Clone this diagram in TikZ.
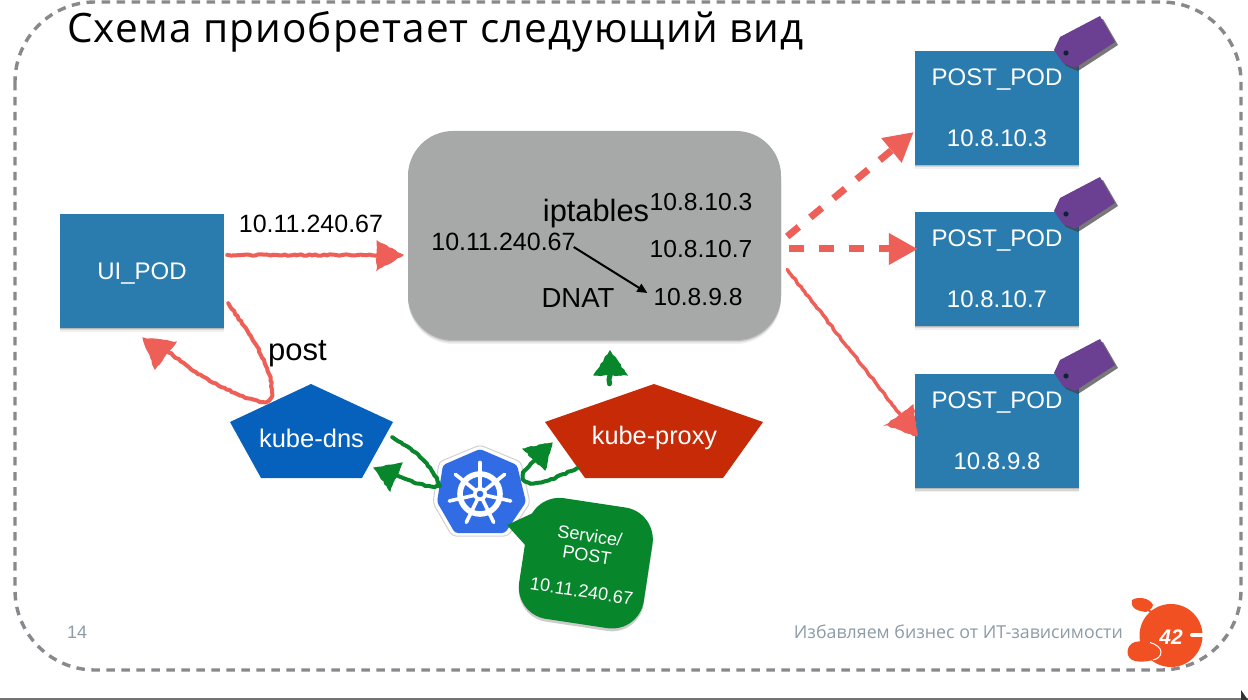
\documentclass[tikz,border=0pt]{standalone}
\usepackage{fontspec}
\setmainfont{Liberation Sans}
\newfontfamily\widefont{Open Sans}
\newfontfamily\titlefont[LetterSpace=2.5]{Open Sans}
\usetikzlibrary{calc,arrows.meta,shadows,decorations.pathmorphing}
\definecolor{cred}{HTML}{EE5F58}
\definecolor{cblue}{HTML}{2A7CAE}
\definecolor{cpurple}{HTML}{6B3F91}
\definecolor{cgreen}{HTML}{07862B}
\definecolor{cdns}{HTML}{0561BC}
\definecolor{cproxy}{HTML}{C62A07}
\definecolor{cgray}{HTML}{A6A9A8}
\definecolor{cwheel}{HTML}{326CE5}
\definecolor{corange}{HTML}{F15022}
\definecolor{cborder}{HTML}{88898D}
\definecolor{cfoot}{HTML}{8C9CA8}
\newcommand{\fs}[1]{\fontsize{#1}{#1}\selectfont}
\tikzset{
  x=1pt,y=-1pt,
  softshadow/.style={
    drop shadow={shadow xshift=0pt,shadow yshift=-1pt,opacity=.14,fill=black},
    drop shadow={shadow xshift=0pt,shadow yshift=-2.5pt,opacity=.10,fill=black},
    drop shadow={shadow xshift=0pt,shadow yshift=-4pt,opacity=.06,fill=black}},
  podbox/.style={fill=cblue,text=white,minimum width=164pt,minimum height=114pt,inner sep=0pt,align=center,softshadow},
  txt/.style={inner sep=0pt,font=\fs{24.6}},
  wtxt/.style={txt,text=white},
  rough/.style={decorate,decoration={random steps,segment length=3pt,amplitude=.7pt,post=lineto,post length=1pt,pre=lineto,pre length=1pt}},
  redpen/.style={draw=cred,line width=4pt,rough,line cap=round,line join=round},
  redtip/.style={fill=cred,draw=cred,line width=1pt,rough},
  greenpen/.style={draw=cgreen,line width=4pt,rough,line cap=round,line join=round},
  greentip/.style={fill=cgreen,draw=cgreen,line width=1pt,rough},
  reddash/.style={draw=cred,line width=7pt,dash pattern=on 15pt off 15pt,
    -{Triangle[length=29pt,width=30pt,fill=cred]}},
  wheelpart/.style={white,line cap=round},
  pics/pricetag/.style={code={
    \fill[black!75,opacity=.7] (1103,19)--(1118,45)--(1078,71)--(1066,66)--(1057,53)--(1063,40)--cycle;
    \fill[cpurple] (1100,16)--(1115,42)--(1075,68)--(1063,63)--(1054,50)--(1060,37)--cycle;
    \fill[black!70!cblue] (1066,53) circle[radius=2.6pt];
  }}
}
\begin{document}
\begin{tikzpicture}
\useasboundingbox (0,0) rectangle (1248,700);
\fill[white] (0,0) rectangle (1248,700);
\fill[black!55] (0,698) rectangle (1248,700);
\fill[black!80] (1241,690)--(1248,700)--(1241,700)--cycle;

% frame
\draw[cborder,line width=3.4pt,dash pattern=on 8.5pt off 6.5pt,rounded corners=80pt] (15,2) rectangle (1241,670);

% title and footer
\node[anchor=west,inner sep=0pt,font=\titlefont\fs{40.5}] (title) at (67,32) {Схема приобретает следующий вид};
\node[anchor=west,inner sep=0pt,font=\fs{18},text=cfoot] (page) at (67,632) {14};
\node[anchor=east,inner sep=0pt,font=\widefont\fs{17.8},text=cfoot] (slogan) at (1123,632) {Избавляем бизнес от ИТ-зависимости};

% gray iptables block
\node[fill=cgray,rounded corners=45pt,minimum width=373pt,minimum height=209pt,inner sep=0pt,softshadow] (gray) at (594.5,235.5) {};
\node[txt,font=\fs{30.8}] (iptables) at (596,214) {iptables};
\node[txt,font=\fs{25}] (vip) at (503.5,242) {10.11.240.67};
\node[txt] (ta) at (701,202) {10.8.10.3};
\node[txt] (tb) at (701,249) {10.8.10.7};
\node[txt] (tc) at (698,297) {10.8.9.8};
\node[txt,font=\fs{27.5}] (dnat) at (578,298) {DNAT};
\draw[line width=2pt,-{Triangle[length=10pt,width=9pt]}] ($(vip.south east)+(-2,-4)$) -- ($(tc.west)+(-6,-4)$);

% pods
\node[podbox,font=\fs{24}] (ui) at (142,271) {\raisebox{-3pt}[17pt][5pt]{UI\_POD}};
\node[podbox,font=\fs{24}] (pa) at (997,108) {POST\_POD\\[37pt]10.8.10.3};
\node[podbox,font=\fs{24}] (pb) at (997,269) {POST\_POD\\[37pt]10.8.10.7};
\node[podbox,font=\fs{24}] (pc) at (997,431) {POST\_POD\\[37pt]10.8.9.8};
\pic at (0,0) {pricetag};
\pic at (0,161) {pricetag};
\pic at (0,323) {pricetag};

% kube-dns
\fill[cdns] (311,384)--(393,422)--(362,478)--(261,478)--(230,422)--cycle;
\node[wtxt,font=\fs{25.5},minimum width=163pt,minimum height=94pt] (dns) at (311.5,438) {kube-dns};
% kube-proxy
\fill[cproxy] (654,384)--(763,422)--(723,478)--(585,478)--(545,422)--cycle;
\node[wtxt,font=\fs{25.3},minimum width=218pt,minimum height=94pt] (proxy) at (654.5,438) {kube-proxy};

% kubernetes logo
\draw[black!18,line width=1pt,fill=white,rounded corners=4pt] (480,445)--(521,462)--(530,503)--(508,536)--(452,536)--(433,503)--(439,462)--cycle;
\node[fill=none,minimum size=70pt,inner sep=0pt] (k8s) at (480,494) {};
\fill[cwheel,rounded corners=3pt] (480,449)--(517,465)--(526,502)--(505,533)--(455,533)--(437,502)--(443,465)--cycle;
\begin{scope}[shift={(480,494)}]
  \draw[white,line width=5.6pt] (0,0) circle[radius=20pt];
  \foreach \a in {0,51.43,102.86,154.29,205.71,257.14,308.57}{
    \draw[wheelpart,line width=3.6pt] (\a-90:4) -- (\a-90:31.5);
  }
  \fill[white] (0,0) circle[radius=7pt];
  \fill[cwheel] (0,0) circle[radius=3.3pt];
\end{scope}

% callout
\node[fill=black,opacity=.2,rounded corners=32pt,rotate=-8.6,minimum width=126pt,minimum height=122pt,inner sep=0pt] (svcsh) at (585.8,566) {};
\fill[cgreen] (507,525)--(533,513)--(526,546)--cycle;
\node[fill=cgreen,rounded corners=32pt,rotate=-8.6,minimum width=126pt,minimum height=122pt,inner sep=0pt,text=white,
  font=\fs{18},align=center] (svc) at (585.8,563.2) {Service/\\[2pt]POST\\[18pt]10.11.240.67};

% labels on connectors
\node[txt,font=\fs{25}] (reqip) at (311,224) {10.11.240.67};
\node[txt,font=\fs{31}] (post) at (297.5,354) {post};

% hand-drawn red connectors
\draw[redpen] ($(ui.east)+(3,-16)$) -- ($(gray.west)+(-28,19.5)$);
\draw[redtip] (403,255)--(377,241)--(377,270)--cycle;
\draw[redpen] ($(ui.south east)+(4,-25)$) .. controls (250,335) and (272,365) .. (272,392)
  .. controls (272,407) and (255,402) .. (235,393) .. controls (215,385) and (190,370) .. ($(ui.south)+(24,21)$);
\draw[redtip] (143,338)--(176,342)--(155,369)--cycle;
\draw[redpen,line width=3.5pt] ($(gray.east)+(6,34)$) -- ($(pc.north west)+(-15,40)$);
\draw[redtip] (917,436)--(886,425)--(913,405)--cycle;

% dashed red connectors
\draw[reddash] ($(gray.east)+(6,1)$) -- ($(pa.west)+(-1,24)$);
\draw[reddash] ($(gray.east)+(8,13.5)$) -- ($(pb.west)+(3,-20)$);

% hand-drawn green connectors
\draw[greenpen] ($(dns.south east)+(-1,-48)$) .. controls (415,450) and (432,465) .. (440,486)
  .. controls (425,488) and (415,482) .. (398,476);
\draw[greentip] (374,468)--(402,463)--(390,491)--cycle;
\draw[greenpen] ($(proxy.south west)+(32,-17)$) .. controls (555,478) and (535,488) .. (525,481)
  .. controls (518,475) and (530,465) .. (535,460);
\draw[greentip] (552,443)--(523,449)--(545,470)--cycle;
\draw[greenpen,line width=5pt] ($(proxy.north)+(-45,-7)$) -- ($(gray.south)+(15.5,28)$);
\draw[greentip] (610,351)--(594,375)--(627,375)--cycle;

% logo 42
\fill[corange] (1171,635.5) circle[radius=31.5pt];
\fill[corange] (1132,600) .. controls (1138,596) and (1150,598) .. (1153,605)
  .. controls (1152,610) and (1148,610) .. (1146,612) .. controls (1140,611) and (1130,610) .. (1132,600)--cycle;
\draw[corange,line width=2pt] (1146,608) -- (1152,613);
\fill[corange] (1135,642) .. controls (1148,639) and (1161,645) .. (1161,652)
  .. controls (1161,660) and (1145,663) .. (1135,661) .. controls (1125,659) and (1125,645) .. (1135,642)--cycle;
\draw[white,line width=1pt] (1150,642.5) .. controls (1156,644) and (1161,648) .. (1161,652) .. controls (1161,656) and (1158,659) .. (1153,660);
\draw[white,line width=4pt,line cap=round] (1192,635) -- (1203,635);
\node[inner sep=0pt,text=white,font=\fs{21}\bfseries\itshape] (logo) at (1171,637) {42};
\end{tikzpicture}
\end{document}
